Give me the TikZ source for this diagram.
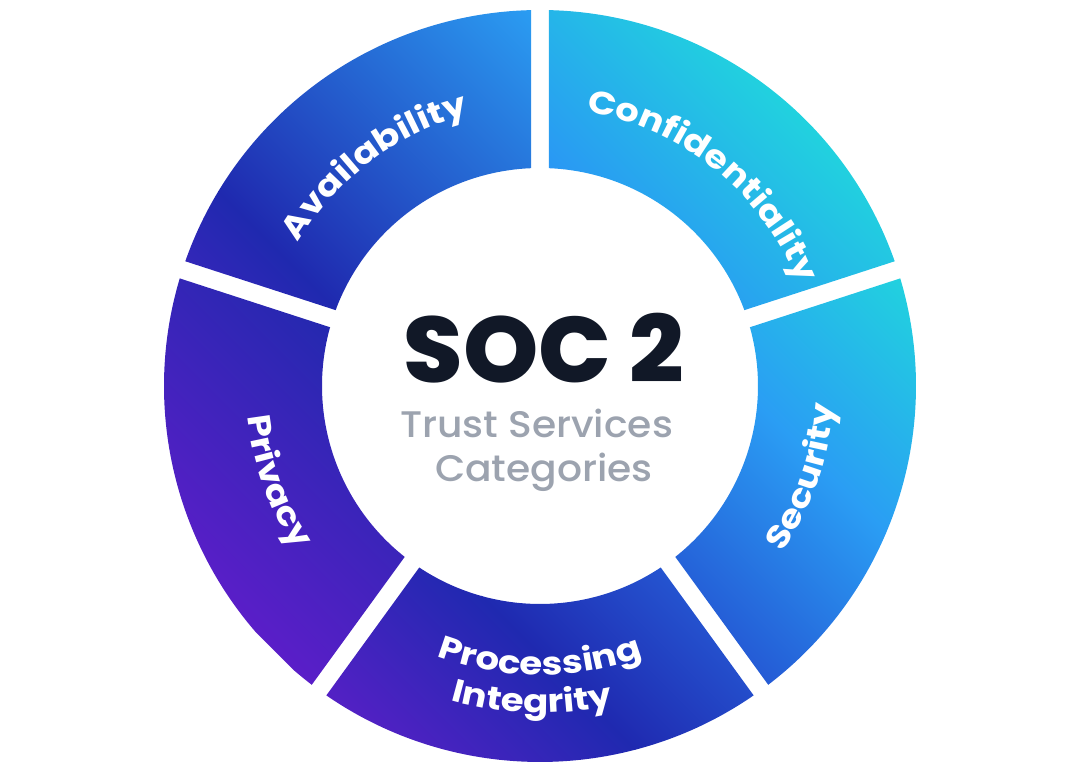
\documentclass[tikz,border=0pt]{standalone}
\usepackage{fontspec}
\usetikzlibrary{decorations.text}
\newfontfamily\labfont{Poppins Bold}[FakeStretch=1.16]
\newfontfamily\titlefont{Poppins ExtraBold}[FakeStretch=1.03]
\newfontfamily\subfont{Poppins Medium}[FakeStretch=1.06]
\definecolor{confA}{HTML}{2A94F5}
\definecolor{confB}{HTML}{21D3DE}
\definecolor{availA}{HTML}{3626BA}
\definecolor{availB}{HTML}{1F29AF}
\definecolor{availC}{HTML}{2BA0F4}
\definecolor{privA}{HTML}{5A1EC8}
\definecolor{privB}{HTML}{2229AE}
\definecolor{procA}{HTML}{5520C5}
\definecolor{procB}{HTML}{1F29B0}
\definecolor{procC}{HTML}{2558D3}
\definecolor{secA}{HTML}{2456D3}
\definecolor{secB}{HTML}{2A9DF4}
\definecolor{secC}{HTML}{21D3DE}
\definecolor{titlecol}{HTML}{111827}
\definecolor{subcol}{HTML}{9CA3AF}
% segment between gap angles #1 < #2, gap 18 wide, radii 218/376
\newcommand{\segpath}[2]{({#1+1.372}:376) arc[start angle={#1+1.372}, end angle={#2-1.372}, radius=376] -- ({#2-2.366}:218) arc[start angle={#2-2.366}, end angle={#1+2.366}, radius=218] -- cycle}
\newcommand{\gradtwo}[4]{\shade[left color=#3, right color=#4] (#1,-420) rectangle (#2,420);}
\tikzset{
  seglabel/.style={decorate, decoration={text along path, text={|\labfont\fontsize{32}{32}\selectfont|#1}, text align=center, text color=white}},
  centertext/.style={anchor=base, inner sep=0pt}
}
\begin{document}
\begin{tikzpicture}[x=1pt,y=1pt]
\useasboundingbox (-540,-389) rectangle (540,386);
% Confidentiality
\begin{scope}
  \clip \segpath{18}{90};
  \begin{scope}[transform canvas={rotate=45}]
    \gradtwo{150}{380}{confA}{confB}
  \end{scope}
\end{scope}
% Availability
\begin{scope}
  \clip \segpath{90}{162};
  \begin{scope}[transform canvas={rotate=45}]
    \gradtwo{-175}{-89.4}{availA}{availB}
    \gradtwo{-90}{270}{availB}{availC}
  \end{scope}
\end{scope}
% Privacy
\begin{scope}
  \clip \segpath{162}{234};
  \begin{scope}[transform canvas={rotate=45}]
    \gradtwo{-375}{-95}{privA}{privB}
  \end{scope}
\end{scope}
% Processing Integrity
\begin{scope}
  \clip \segpath{234}{306};
  \begin{scope}[transform canvas={rotate=45}]
    \gradtwo{-375}{-189.4}{procA}{procB}
    \gradtwo{-190}{-30}{procB}{procC}
  \end{scope}
\end{scope}
% Security
\begin{scope}
  \clip \segpath{306}{378};
  \begin{scope}[transform canvas={rotate=45}]
    \gradtwo{-62}{140.6}{secA}{secB}
    \gradtwo{140}{338}{secB}{secC}
  \end{scope}
\end{scope}
% ring labels
\path[seglabel=Availability] (172:281) arc[start angle=172, end angle=82, radius=281];
\path[seglabel=Confidentiality] (96:278) arc[start angle=96, end angle=6, radius=278];
\path[seglabel=Security] (-64:294) arc[start angle=-64, end angle=26, radius=294];
\path[seglabel=Processing] (-135:289) arc[start angle=-135, end angle=-45, radius=289];
\path[seglabel=Integrity] (-136.5:327) arc[start angle=-136.5, end angle=-46.5, radius=327];
\path[seglabel=Privacy] (155:294) arc[start angle=155, end angle=245, radius=294];
% centre
\node[centertext, text=titlecol] (soc) at (4,3) {\titlefont\fontsize{93}{93}\selectfont SOC 2};
\node[centertext, text=subcol] (tsc1) at (-3.5,-52) {\subfont\fontsize{37}{37}\selectfont Trust Services};
\node[centertext, text=subcol] (tsc2) at (4,-96) {\subfont\fontsize{37}{37}\selectfont Categories};
\end{tikzpicture}
\end{document}
